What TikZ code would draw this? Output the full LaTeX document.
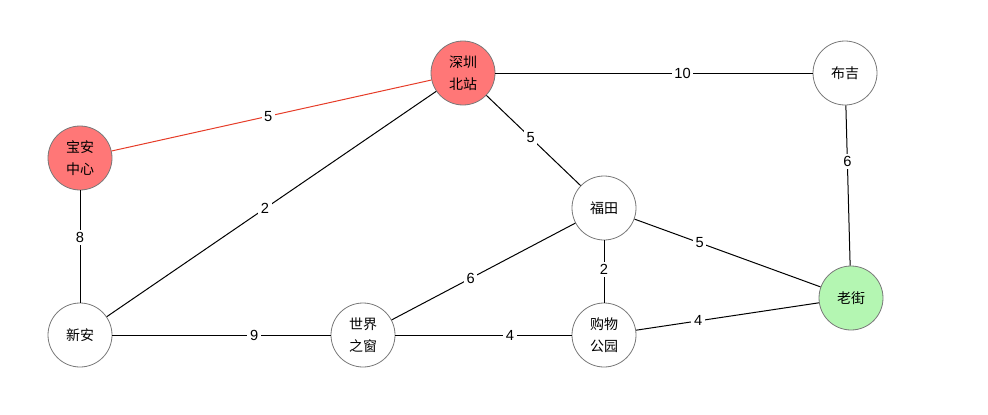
\documentclass[tikz,border=0pt]{standalone}
\usepackage{fontspec}
\setmainfont{Liberation Sans}
\newfontfamily\cjk{Noto Sans CJK SC}
\usepackage{xcolor}
\usepackage{tikz}
\usetikzlibrary{positioning}
\definecolor{stopred}{RGB}{255, 119, 119}
\definecolor{stopgreen}{RGB}{180, 246, 178}
\definecolor{ringgray}{RGB}{120, 120, 120}
\definecolor{pathred}{RGB}{230, 60, 40}

\begin{document}
\begin{tikzpicture}[x=0.75pt, y=-0.75pt,
  stop/.style={circle, draw=ringgray, line width=0.6pt, fill=white, minimum size=48pt,
               inner sep=0pt, align=center, font=\cjk\fontsize{10.5}{16.5}\selectfont},
  link/.style={line width=0.75pt, black},
  hot/.style={line width=0.75pt, pathred},
  wt/.style={fill=white, text=black, inner sep=2pt, font=\fontsize{11}{13}\selectfont}
]
\useasboundingbox (0,0) rectangle (988,414);

% stations
\node[stop, fill=stopred] (SZN) at (463,73) {深圳\\北站};
\node[stop] (BJ) at (845,73) {布吉};
\node[stop, fill=stopred] (BA) at (80,158) {宝安\\中心};
\node[stop] (FT) at (604,208) {福田};
\node[stop] (XA) at (80,335) {新安};
\node[stop] (SJ) at (363,335) {世界\\之窗};
\node[stop] (GW) at (604,335) {购物\\公园};
\node[stop, fill=stopgreen] (LJ) at (851,298) {老街};

% connections
\draw[hot] (BA) -- node[wt, pos=0.49] {5} (SZN);
\draw[link] (SZN) -- node[wt, pos=0.59] {10} (BJ);
\draw[link] (SZN) -- node[wt, pos=0.47] {5} (FT);
\draw[link] (SZN) -- node[wt, pos=0.52] {2} (XA);
\draw[link] (BA) -- node[wt, pos=0.42] {8} (XA);
\draw[link] (BJ) -- node[wt, pos=0.35] {6} (LJ);
\draw[link] (FT) -- node[wt, pos=0.35] {5} (LJ);
\draw[link] (FT) -- node[wt, pos=0.47] {2} (GW);
\draw[link] (SJ) -- node[wt, pos=0.43] {6} (FT);
\draw[link] (XA) -- node[wt, pos=0.65] {9} (SJ);
\draw[link] (SJ) -- node[wt, pos=0.65] {4} (GW);
\draw[link] (GW) -- node[wt, pos=0.34] {4} (LJ);
\end{tikzpicture}
\end{document}
